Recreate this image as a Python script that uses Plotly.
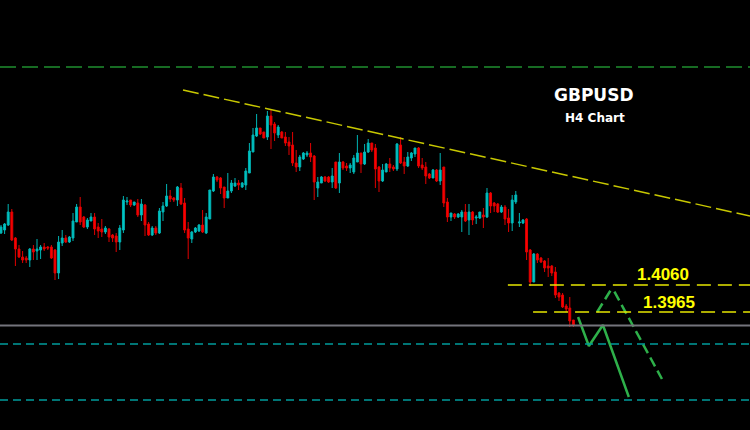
import plotly.graph_objects as go

# ---- candle data (GBPUSD, H4) ----
open_ = [1.42420,1.42525,1.42700,1.43155,1.42245,1.41860,1.41580,1.41545,1.41475,1.41860,
         1.41790,1.41825,1.41930,1.41930,1.41930,1.41825,1.41020,1.42070,1.42245,1.42105,
         1.42245,1.42805,1.43330,1.42980,1.42630,1.42840,1.42980,1.42630,1.42560,1.42455,
         1.42560,1.42350,1.42315,1.42105,1.42525,1.43505,1.43575,1.43400,1.43470,1.43050,
         1.43400,1.42735,1.42350,1.42595,1.42420,1.43155,1.43365,1.43715,1.43645,1.43575,
         1.43995,1.43470,1.42560,1.42210,1.42455,1.42490,1.42700,1.42420,1.42910,1.43890,
         1.44380,1.44345,1.44030,1.43645,1.43890,1.44065,1.44170,1.44030,1.44100,1.44520,
         1.45255,1.45815,1.46095,1.45955,1.45780,1.46515,1.46235,1.45850,1.45955,1.45780,
         1.45605,1.45500,1.44870,1.44730,1.45010,1.45150,1.45220,1.45115,1.43995,1.44170,
         1.44380,1.44380,1.44205,1.44905,1.44170,1.44905,1.44765,1.44695,1.44555,1.44905,
         1.45220,1.44835,1.45255,1.45570,1.45395,1.44730,1.44240,1.44555,1.44835,1.44730,
         1.44660,1.45500,1.44905,1.44765,1.45045,1.45185,1.45395,1.44800,1.44730,1.44485,
         1.44345,1.44625,1.44240,1.44730,1.43505,1.42980,1.43085,1.42980,1.42980,1.43155,
         1.42875,1.43155,1.42945,1.42945,1.43050,1.42980,1.43820,1.43470,1.43435,1.43155,
         1.43330,1.42945,1.42770,1.43505,1.42770,1.42770,1.42910,1.41825,1.40705,1.41685,
         1.41545,1.41440,1.41265,1.41265,1.41055,1.40320,1.40250,1.39865,1.39795,1.39375]
high = [1.42700,1.42770,1.43435,1.43260,1.42280,1.42000,1.41790,1.41615,1.41895,1.42000,
        1.42210,1.42000,1.42070,1.41965,1.42000,1.41860,1.42315,1.42525,1.42350,1.42315,
        1.43120,1.43435,1.43680,1.43015,1.42945,1.43120,1.43120,1.42770,1.42910,1.42665,
        1.42595,1.42385,1.42420,1.42700,1.43715,1.43680,1.43575,1.43505,1.43610,1.43610,
        1.43435,1.42805,1.42665,1.42665,1.43295,1.43505,1.44135,1.43925,1.43680,1.44065,
        1.44170,1.43645,1.42805,1.42490,1.42630,1.42735,1.43225,1.43120,1.43925,1.44485,
        1.44415,1.44380,1.44030,1.44520,1.44275,1.44345,1.44275,1.44205,1.44695,1.45570,
        1.46095,1.46585,1.46095,1.45955,1.46690,1.46760,1.46305,1.46200,1.45990,1.45955,
        1.45780,1.45955,1.45325,1.45150,1.45255,1.45290,1.45570,1.45150,1.44380,1.44415,
        1.44415,1.44415,1.44695,1.44905,1.45220,1.44940,1.44870,1.44870,1.45150,1.45850,
        1.45220,1.45535,1.45710,1.45570,1.45535,1.44765,1.44835,1.44870,1.45045,1.44800,
        1.45570,1.45780,1.45080,1.45255,1.45255,1.45395,1.45430,1.45045,1.44905,1.44520,
        1.44660,1.44660,1.45220,1.44730,1.43645,1.43120,1.43120,1.43120,1.43225,1.43435,
        1.43435,1.43190,1.43050,1.43155,1.43295,1.43995,1.43855,1.43505,1.43470,1.43400,
        1.43400,1.43260,1.43750,1.43890,1.43120,1.42910,1.42945,1.41860,1.41720,1.41720,
        1.41580,1.41475,1.41545,1.41300,1.41230,1.40355,1.40320,1.39935,1.40180,1.39375]
low = [1.42385,1.42385,1.42665,1.42140,1.41265,1.41545,1.41370,1.41370,1.41230,1.41475,
       1.41475,1.41510,1.41790,1.41825,1.41510,1.40775,1.40810,1.41965,1.42070,1.42070,
       1.42140,1.42805,1.42700,1.42595,1.42560,1.42840,1.42350,1.42245,1.42280,1.42385,
       1.42105,1.42105,1.41755,1.41825,1.42420,1.43400,1.43330,1.43365,1.42980,1.42840,
       1.42315,1.42315,1.42315,1.42350,1.42385,1.42840,1.43330,1.43505,1.43505,1.43365,
       1.43400,1.42420,1.41510,1.42070,1.42420,1.42455,1.42420,1.42385,1.42910,1.43855,
       1.44205,1.43785,1.43295,1.43645,1.43820,1.44030,1.43925,1.43995,1.43925,1.44520,
       1.45255,1.45780,1.45850,1.45745,1.45675,1.45360,1.45640,1.45745,1.45745,1.45465,
       1.45150,1.44765,1.44555,1.44590,1.44975,1.45080,1.44905,1.43575,1.43680,1.44170,
       1.44205,1.44170,1.43995,1.43960,1.43820,1.44625,1.44590,1.44520,1.44485,1.44905,
       1.44520,1.44800,1.45220,1.45255,1.43995,1.43855,1.44205,1.44555,1.44555,1.44590,
       1.44590,1.44835,1.44485,1.44730,1.44940,1.45080,1.44695,1.44625,1.44135,1.44310,
       1.44345,1.44205,1.44100,1.43330,1.42805,1.42840,1.42910,1.42945,1.42455,1.42805,
       1.42350,1.42700,1.42735,1.42910,1.42595,1.42945,1.43120,1.43155,1.43120,1.43120,
       1.42700,1.42455,1.42490,1.43435,1.42630,1.42735,1.41475,1.40565,1.40705,1.41370,
       1.41370,1.41055,1.40880,1.40915,1.40145,1.40040,1.39795,1.39655,1.39130,1.39130]
close = [1.42630,1.42735,1.43155,1.42175,1.41860,1.41580,1.41475,1.41475,1.41860,1.41755,
         1.41860,1.41930,1.41860,1.41895,1.41545,1.41020,1.42105,1.42245,1.42105,1.42280,
         1.42840,1.43330,1.42805,1.42630,1.42875,1.42980,1.42560,1.42490,1.42455,1.42595,
         1.42280,1.42245,1.42105,1.42595,1.43575,1.43540,1.43400,1.43505,1.43050,1.43435,
         1.42700,1.42350,1.42595,1.42420,1.43190,1.43365,1.43715,1.43610,1.43575,1.44030,
         1.43435,1.42525,1.42245,1.42455,1.42595,1.42700,1.42455,1.42980,1.43925,1.44380,
         1.44275,1.43995,1.43645,1.43890,1.44170,1.44170,1.44100,1.44170,1.44590,1.45290,
         1.45850,1.46095,1.45885,1.45745,1.46515,1.46200,1.45920,1.46130,1.45745,1.45570,
         1.45465,1.44870,1.44730,1.45080,1.45220,1.45220,1.45080,1.44205,1.44205,1.44380,
         1.44240,1.44205,1.44415,1.43995,1.44905,1.44695,1.44695,1.44800,1.45045,1.45220,
         1.44835,1.45255,1.45570,1.45325,1.44660,1.44240,1.44625,1.44835,1.44695,1.44660,
         1.45535,1.44870,1.44765,1.45080,1.45220,1.45395,1.44765,1.44695,1.44415,1.44345,
         1.44625,1.44240,1.44625,1.43470,1.42980,1.43120,1.42980,1.43085,1.43155,1.42840,
         1.43155,1.42875,1.42980,1.43155,1.42980,1.43820,1.43365,1.43365,1.43155,1.43330,
         1.42910,1.42770,1.43575,1.43750,1.42805,1.42875,1.41755,1.40705,1.41685,1.41475,
         1.41405,1.41195,1.41195,1.41020,1.40250,1.40180,1.39830,1.39760,1.39340,1.39200]
bars = list(range(len(close)))

# ---- drawn levels / annotations ----
symbol = "GBPUSD"
timeframe = "H4 Chart"
level_labels = ["1.4060", "1.3965"]
level_prices = [1.40600, 1.39655]
level_start_bar = [140.8, 147.8]
upper_green_level = 1.48230
teal_levels = [1.38535, 1.36575]
bid_price = 1.39185
trend_bars = [50.56, 208.06]
trend_prices = [1.47425, 1.43015]
path_solid_bars = [160.3, 163.3, 167.2, 174.4]
path_solid_prices = [1.39480, 1.38465, 1.39200, 1.36680]
path_dash_bars = [165.6, 169.4, 170.3, 183.6]
path_dash_prices = [1.39655, 1.40425, 1.40390, 1.37310]

X_RANGE = [-0.278, 208.06]
Y_RANGE = [1.35525, 1.50575]

fig = go.Figure()
fig.add_trace(go.Candlestick(
    x=bars, open=open_, high=high, low=low, close=close,
    increasing=dict(line=dict(color="#00b4b4", width=1), fillcolor="#00c8c8"),
    decreasing=dict(line=dict(color="#e00000", width=1), fillcolor="#ff0000"),
    hoverinfo="skip", showlegend=False,
))

# trend line
fig.add_trace(go.Scatter(x=trend_bars, y=trend_prices, mode="lines",
                         line=dict(color="#c8c800", width=1.5, dash="16px,5px"),
                         hoverinfo="skip", showlegend=False))
# projection paths
fig.add_trace(go.Scatter(x=path_solid_bars, y=path_solid_prices, mode="lines",
                         line=dict(color="#2eb04a", width=2.5),
                         hoverinfo="skip", showlegend=False))
fig.add_trace(go.Scatter(x=path_dash_bars, y=path_dash_prices, mode="lines",
                         line=dict(color="#2eb04a", width=2.5, dash="10px,5px"),
                         hoverinfo="skip", showlegend=False))

shapes = []
shapes.append(dict(type="line", xref="paper", x0=0, x1=1, yref="y",
                   y0=upper_green_level, y1=upper_green_level,
                   line=dict(color="#1f8f2f", width=1.5, dash="16px,6px")))
for lv in teal_levels:
    shapes.append(dict(type="line", xref="paper", x0=0, x1=1, yref="y", y0=lv, y1=lv,
                       line=dict(color="#009c9c", width=1.5, dash="8px,5px")))
shapes.append(dict(type="line", xref="paper", x0=0, x1=1, yref="y",
                   y0=bid_price, y1=bid_price, line=dict(color="#74747c", width=2)))
for p, xs in zip(level_prices, level_start_bar):
    shapes.append(dict(type="line", xref="x", x0=xs, x1=X_RANGE[1], yref="y", y0=p, y1=p,
                       line=dict(color="#e6e600", width=1.5, dash="14px,7px")))

def label(text, px, py, family, size, color):
    return dict(text="<b>%s</b>" % text, x=px / 750, y=1 - py / 430,
                xref="paper", yref="paper", xanchor="center", yanchor="middle",
                showarrow=False, font=dict(family=family, size=size, color=color))

annotations = [
    label(symbol, 594, 95, "DejaVu Sans", 17, "#ffffff"),
    label(timeframe, 595, 118, "DejaVu Sans", 12, "#ffffff"),
    label(level_labels[0], 663, 274, "Liberation Sans, Arial", 17, "#ffff00"),
    label(level_labels[1], 669, 302.5, "Liberation Sans, Arial", 17, "#ffff00"),
]

fig.update_layout(
    width=750, height=430,
    margin=dict(l=0, r=0, t=0, b=0),
    paper_bgcolor="#000000", plot_bgcolor="#000000",
    shapes=shapes, annotations=annotations,
    boxgap=0.25,
    xaxis=dict(range=X_RANGE, visible=False, rangeslider=dict(visible=False), fixedrange=True),
    yaxis=dict(range=Y_RANGE, visible=False, fixedrange=True),
    hovermode=False,
)

fig.write_html("out.html", config={"displayModeBar": False},
               post_script="document.body.style.margin='0';document.body.style.background='#000';document.body.style.overflow='hidden';")
